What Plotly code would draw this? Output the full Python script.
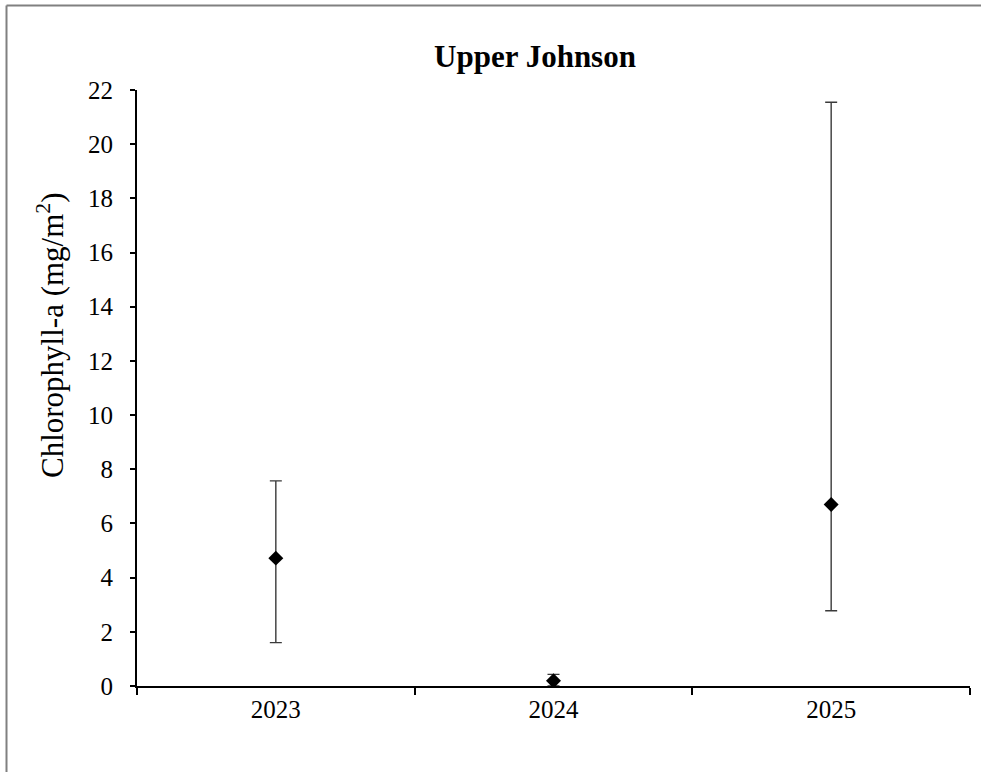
import plotly.graph_objects as go

# Annual mean chlorophyll-a with error ranges
years = ["2023", "2024", "2025"]
chl_mean = [4.72, 0.19, 6.70]
chl_upper = [7.57, 0.43, 21.55]
chl_lower = [1.60, 0.0, 2.78]
y_ticks = [0, 2, 4, 6, 8, 10, 12, 14, 16, 18, 20, 22]

err_plus = [u - m for u, m in zip(chl_upper, chl_mean)]
err_minus = [m - l for m, l in zip(chl_mean, chl_lower)]

W, H = 981, 772
L, R, T, B = 137, 11, 90, 86
pw, ph = W - L - R, H - T - B


def px_x(p):
    return (p - L) / pw


def px_y(p):
    return (H - B - p) / ph


FONT = "Liberation Serif, Times New Roman, serif"
FRAME = dict(color="#808080", width=2)

fig = go.Figure()
fig.add_trace(go.Scatter(
    x=years,
    y=chl_mean,
    mode="markers",
    marker=dict(symbol="diamond", size=11.5, color="black"),
    error_y=dict(type="data", symmetric=False, array=err_plus,
                 arrayminus=err_minus, color="#3a3a3a", thickness=1.4,
                 width=6),
    showlegend=False,
))

fig.update_layout(
    width=W, height=H,
    margin=dict(l=L, r=R, t=T, b=B),
    plot_bgcolor="white",
    paper_bgcolor="white",
    font=dict(family=FONT, color="black", size=25),
    title=dict(text="<b>Upper Johnson</b>", font=dict(size=31, family=FONT),
               x=535 / W, xref="container", xanchor="center",
               y=1 - 67 / H, yref="container", yanchor="bottom"),
    xaxis=dict(type="category", range=[-0.5, 2.5], tickson="boundaries",
               showline=True, linecolor="black", linewidth=2,
               ticks="outside", ticklen=7, tickwidth=2, tickcolor="black",
               showgrid=False, zeroline=False,
               tickfont=dict(size=25, family=FONT)),
    yaxis=dict(range=[0, 22], tickvals=y_ticks,
               showline=True, linecolor="black", linewidth=2,
               ticks="outside", ticklen=5, tickwidth=2, tickcolor="black",
               showgrid=False, zeroline=False,
               ticklabelstandoff=12,
               tickfont=dict(size=25, family=FONT)),
    shapes=[
        # chart frame: left and top edges
        dict(type="line", xref="paper", yref="paper",
             x0=px_x(6.5), x1=px_x(6.5), y0=px_y(H + 5), y1=px_y(5.5),
             line=FRAME, layer="below"),
        dict(type="line", xref="paper", yref="paper",
             x0=px_x(6.5), x1=px_x(W + 5), y0=px_y(5.5), y1=px_y(5.5),
             line=FRAME, layer="below"),
    ],
    annotations=[dict(text="Chlorophyll-a (mg/m<sup>2</sup>)",
                      xref="paper", yref="paper",
                      x=px_x(50), y=px_y(335),
                      xanchor="center", yanchor="middle",
                      textangle=-90, showarrow=False,
                      font=dict(size=31, family=FONT))],
)

fig.write_html("out.html")
